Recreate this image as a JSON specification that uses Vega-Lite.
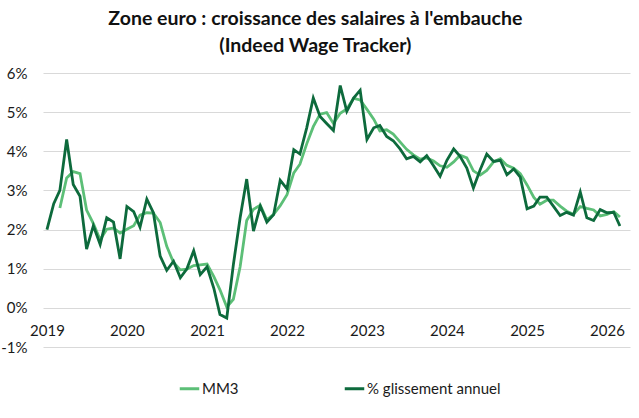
{
  "$schema": "https://vega.github.io/schema/vega-lite/v6.json",
  "autosize": "none",
  "width": 587,
  "height": 274,
  "padding": {"left": 43, "top": 73, "right": 9, "bottom": 71},
  "background": "white",
  "title": {
    "text": ["Zone euro : croissance des salaires à l'embauche", "(Indeed Wage Tracker)"],
    "font": "Lato",
    "fontSize": 19.5,
    "fontWeight": "bold",
    "color": "#111111",
    "anchor": "middle",
    "frame": "bounds",
    "lineHeight": 27,
    "offset": 10
  },
  "datasets": {
    "salaires": [
      {"date": "2019-01-01", "glissement": 2.00, "mm3": null},
      {"date": "2019-02-01", "glissement": 2.66, "mm3": null},
      {"date": "2019-03-01", "glissement": 3.00, "mm3": 2.55},
      {"date": "2019-04-01", "glissement": 4.30, "mm3": 3.32},
      {"date": "2019-05-01", "glissement": 3.15, "mm3": 3.48},
      {"date": "2019-06-01", "glissement": 2.85, "mm3": 3.43},
      {"date": "2019-07-01", "glissement": 1.50, "mm3": 2.50},
      {"date": "2019-08-01", "glissement": 2.10, "mm3": 2.15},
      {"date": "2019-09-01", "glissement": 1.62, "mm3": 1.74},
      {"date": "2019-10-01", "glissement": 2.30, "mm3": 2.01},
      {"date": "2019-11-01", "glissement": 2.19, "mm3": 2.04},
      {"date": "2019-12-01", "glissement": 1.25, "mm3": 1.91},
      {"date": "2020-01-01", "glissement": 2.59, "mm3": 2.01},
      {"date": "2020-02-01", "glissement": 2.46, "mm3": 2.10},
      {"date": "2020-03-01", "glissement": 2.06, "mm3": 2.37},
      {"date": "2020-04-01", "glissement": 2.78, "mm3": 2.43},
      {"date": "2020-05-01", "glissement": 2.43, "mm3": 2.42},
      {"date": "2020-06-01", "glissement": 1.32, "mm3": 2.18},
      {"date": "2020-07-01", "glissement": 0.96, "mm3": 1.57},
      {"date": "2020-08-01", "glissement": 1.19, "mm3": 1.16},
      {"date": "2020-09-01", "glissement": 0.77, "mm3": 0.97},
      {"date": "2020-10-01", "glissement": 1.00, "mm3": 0.99},
      {"date": "2020-11-01", "glissement": 1.46, "mm3": 1.08},
      {"date": "2020-12-01", "glissement": 0.85, "mm3": 1.10},
      {"date": "2021-01-01", "glissement": 1.05, "mm3": 1.12},
      {"date": "2021-02-01", "glissement": 0.50, "mm3": 0.80},
      {"date": "2021-03-01", "glissement": -0.17, "mm3": 0.46},
      {"date": "2021-04-01", "glissement": -0.26, "mm3": 0.02},
      {"date": "2021-05-01", "glissement": 1.10, "mm3": 0.22},
      {"date": "2021-06-01", "glissement": 2.30, "mm3": 1.05},
      {"date": "2021-07-01", "glissement": 3.29, "mm3": 2.23},
      {"date": "2021-08-01", "glissement": 1.96, "mm3": 2.52},
      {"date": "2021-09-01", "glissement": 2.60, "mm3": 2.62},
      {"date": "2021-10-01", "glissement": 2.19, "mm3": 2.25},
      {"date": "2021-11-01", "glissement": 2.38, "mm3": 2.39},
      {"date": "2021-12-01", "glissement": 3.26, "mm3": 2.61},
      {"date": "2022-01-01", "glissement": 3.04, "mm3": 2.89},
      {"date": "2022-02-01", "glissement": 4.04, "mm3": 3.45},
      {"date": "2022-03-01", "glissement": 3.93, "mm3": 3.67},
      {"date": "2022-04-01", "glissement": 4.60, "mm3": 4.19},
      {"date": "2022-05-01", "glissement": 5.36, "mm3": 4.63},
      {"date": "2022-06-01", "glissement": 4.89, "mm3": 4.95},
      {"date": "2022-07-01", "glissement": 4.71, "mm3": 4.99},
      {"date": "2022-08-01", "glissement": 4.53, "mm3": 4.71},
      {"date": "2022-09-01", "glissement": 5.68, "mm3": 4.97},
      {"date": "2022-10-01", "glissement": 5.02, "mm3": 5.08},
      {"date": "2022-11-01", "glissement": 5.36, "mm3": 5.35},
      {"date": "2022-12-01", "glissement": 5.56, "mm3": 5.31},
      {"date": "2023-01-01", "glissement": 4.30, "mm3": 5.07},
      {"date": "2023-02-01", "glissement": 4.60, "mm3": 4.82},
      {"date": "2023-03-01", "glissement": 4.66, "mm3": 4.52},
      {"date": "2023-04-01", "glissement": 4.38, "mm3": 4.55},
      {"date": "2023-05-01", "glissement": 4.27, "mm3": 4.44},
      {"date": "2023-06-01", "glissement": 4.06, "mm3": 4.24},
      {"date": "2023-07-01", "glissement": 3.81, "mm3": 4.05},
      {"date": "2023-08-01", "glissement": 3.87, "mm3": 3.91},
      {"date": "2023-09-01", "glissement": 3.73, "mm3": 3.80},
      {"date": "2023-10-01", "glissement": 3.89, "mm3": 3.83},
      {"date": "2023-11-01", "glissement": 3.63, "mm3": 3.75},
      {"date": "2023-12-01", "glissement": 3.36, "mm3": 3.63},
      {"date": "2024-01-01", "glissement": 3.77, "mm3": 3.59},
      {"date": "2024-02-01", "glissement": 4.06, "mm3": 3.73},
      {"date": "2024-03-01", "glissement": 3.87, "mm3": 3.90},
      {"date": "2024-04-01", "glissement": 3.57, "mm3": 3.83},
      {"date": "2024-05-01", "glissement": 3.06, "mm3": 3.50},
      {"date": "2024-06-01", "glissement": 3.53, "mm3": 3.39},
      {"date": "2024-07-01", "glissement": 3.93, "mm3": 3.51},
      {"date": "2024-08-01", "glissement": 3.74, "mm3": 3.73},
      {"date": "2024-09-01", "glissement": 3.77, "mm3": 3.81},
      {"date": "2024-10-01", "glissement": 3.40, "mm3": 3.64},
      {"date": "2024-11-01", "glissement": 3.55, "mm3": 3.57},
      {"date": "2024-12-01", "glissement": 3.34, "mm3": 3.43},
      {"date": "2025-01-01", "glissement": 2.53, "mm3": 3.14},
      {"date": "2025-02-01", "glissement": 2.60, "mm3": 2.82},
      {"date": "2025-03-01", "glissement": 2.83, "mm3": 2.65},
      {"date": "2025-04-01", "glissement": 2.83, "mm3": 2.75},
      {"date": "2025-05-01", "glissement": 2.60, "mm3": 2.75},
      {"date": "2025-06-01", "glissement": 2.36, "mm3": 2.60},
      {"date": "2025-07-01", "glissement": 2.44, "mm3": 2.47},
      {"date": "2025-08-01", "glissement": 2.37, "mm3": 2.39},
      {"date": "2025-09-01", "glissement": 2.96, "mm3": 2.59},
      {"date": "2025-10-01", "glissement": 2.30, "mm3": 2.54},
      {"date": "2025-11-01", "glissement": 2.23, "mm3": 2.50},
      {"date": "2025-12-01", "glissement": 2.51, "mm3": 2.35},
      {"date": "2026-01-01", "glissement": 2.43, "mm3": 2.39},
      {"date": "2026-02-01", "glissement": 2.44, "mm3": 2.46},
      {"date": "2026-03-01", "glissement": 2.09, "mm3": 2.32}
    ]
  },
  "data": {"name": "salaires"},
  "transform": [
    {"fold": ["mm3", "glissement"], "as": ["serie_key", "valeur"]},
    {"filter": "datum.valeur != null"},
    {"lookup": "serie_key", "from": {"data": {"values": [
      {"serie_key": "mm3", "serie": "MM3"},
      {"serie_key": "glissement", "serie": "% glissement annuel"}
    ]}, "key": "serie_key", "fields": ["serie"]}}
  ],
  "encoding": {
    "x": {
      "field": "date",
      "type": "temporal",
      "scale": {
        "type": "utc",
        "domain": [
          {"year": 2018, "month": 12, "date": 14, "utc": true},
          {"year": 2026, "month": 4, "date": 16, "utc": true}
        ]
      },
      "axis": {
        "title": null,
        "format": "%Y",
        "values": [
          {"year": 2019, "month": 1, "date": 1, "utc": true},
          {"year": 2020, "month": 1, "date": 1, "utc": true},
          {"year": 2021, "month": 1, "date": 1, "utc": true},
          {"year": 2022, "month": 1, "date": 1, "utc": true},
          {"year": 2023, "month": 1, "date": 1, "utc": true},
          {"year": 2024, "month": 1, "date": 1, "utc": true},
          {"year": 2025, "month": 1, "date": 1, "utc": true},
          {"year": 2026, "month": 1, "date": 1, "utc": true}
        ],
        "offset": -39.1,
        "domain": false,
        "ticks": false,
        "grid": false,
        "labelPadding": 16,
        "labelFont": "Lato",
        "labelFontSize": 15,
        "labelColor": "#1a1a1a",
        "labelFlush": false,
        "labelOverlap": false
      }
    },
    "y": {
      "field": "valeur",
      "type": "quantitative",
      "scale": {"domain": [-1, 6], "nice": false, "zero": false},
      "axis": {
        "title": null,
        "values": [-1, 0, 1, 2, 3, 4, 5, 6],
        "labelExpr": "datum.value + '%'",
        "domain": false,
        "ticks": false,
        "grid": true,
        "gridColor": "#d9d9d9",
        "gridWidth": 1,
        "labelPadding": 16,
        "labelFont": "Lato",
        "labelFontSize": 15,
        "labelColor": "#1a1a1a"
      }
    },
    "color": {
      "field": "serie",
      "type": "nominal",
      "scale": {
        "domain": ["MM3", "% glissement annuel"],
        "range": ["#5cbf77", "#0d6a3c"]
      },
      "legend": {
        "title": null,
        "orient": "none",
        "legendX": 135,
        "legendY": 304,
        "direction": "horizontal",
        "columns": 2,
        "columnPadding": 99,
        "symbolType": "stroke",
        "symbolSize": 380,
        "symbolStrokeWidth": 3,
        "labelOffset": 1,
        "labelFont": "Lato",
        "labelFontSize": 15,
        "labelColor": "#1a1a1a"
      }
    }
  },
  "layer": [
    {
      "transform": [{"filter": "datum.serie_key == 'mm3'"}],
      "mark": {"type": "line", "strokeWidth": 2.8, "interpolate": "linear"}
    },
    {
      "transform": [{"filter": "datum.serie_key == 'glissement'"}],
      "mark": {"type": "line", "strokeWidth": 2.8, "interpolate": "linear"}
    }
  ],
  "config": {
    "view": {"stroke": null}
  }
}
